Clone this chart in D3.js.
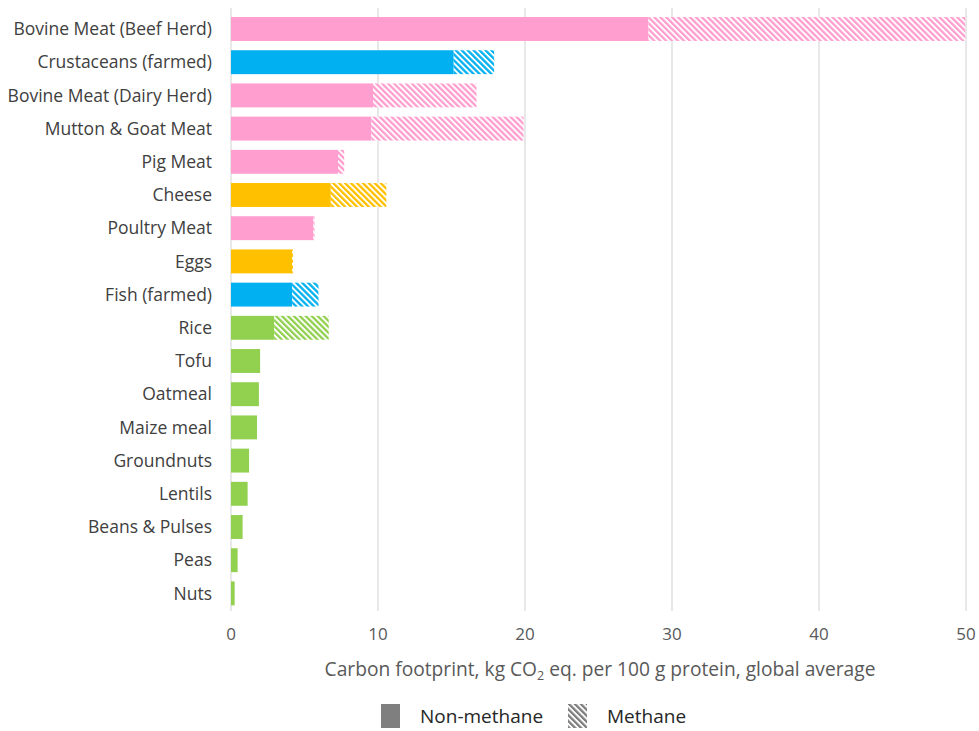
<!DOCTYPE html>
<html>
<head>
<meta charset="utf-8">
<script src="https://cdn.jsdelivr.net/npm/d3@7"></script>
<style>
  body { margin: 0; background: #fff; }
  text { font-family: "Open Sans", "Liberation Sans", sans-serif; }
</style>
</head>
<body>
<script>
// data
const foods = ['Bovine Meat (Beef Herd)', 'Crustaceans (farmed)', 'Bovine Meat (Dairy Herd)',
  'Mutton & Goat Meat', 'Pig Meat', 'Cheese', 'Poultry Meat', 'Eggs', 'Fish (farmed)', 'Rice',
  'Tofu', 'Oatmeal', 'Maize meal', 'Groundnuts', 'Lentils', 'Beans & Pulses', 'Peas', 'Nuts']
const nonMethane = [28.4, 15.15, 9.66, 9.55, 7.28, 6.79, 5.6, 4.15, 4.16, 2.94,
  1.98, 1.9, 1.77, 1.23, 1.13, 0.79, 0.45, 0.25]
const methane = [21.55, 2.75, 7.04, 10.35, 0.42, 3.78, 0.08, 0.07, 1.79, 3.71,
  0, 0, 0, 0, 0, 0, 0, 0]
const groups = ['meat', 'seafood', 'meat', 'meat', 'meat', 'dairy', 'meat', 'dairy', 'seafood', 'plant',
  'plant', 'plant', 'plant', 'plant', 'plant', 'plant', 'plant', 'plant']
const xTicks = [0, 10, 20, 30, 40, 50]

const colors = {meat: '#ff9ecf', seafood: '#00b0f0', dairy: '#ffc000', plant: '#92d050'}

const width = 979
const height = 731

const svg = d3.select('body').append('svg')
  .attr('width', width)
  .attr('height', height)

const x = d3.scaleLinear().domain([0, 50]).range([231, 966])
const y = d3.scaleBand().domain(foods).range([12.4, 610])
  .paddingInner(0.28).paddingOuter(0.14)

// hatch patterns, one per colour (stripes run top-left to bottom-right)
const defs = svg.append('defs')
const makeHatch = (id, color) => {
  const p = defs.append('pattern')
    .attr('id', id)
    .attr('patternUnits', 'userSpaceOnUse')
    .attr('width', 4.2)
    .attr('height', 4.2)
    .attr('patternTransform', 'rotate(-45)')
  p.append('rect').attr('width', 4.2).attr('height', 4.2).attr('fill', '#fff')
  p.append('rect').attr('width', 2.3).attr('height', 4.2).attr('fill', color)
}
Object.keys(colors).forEach(k => makeHatch('hatch-' + k, colors[k]))
makeHatch('hatch-legend', '#7f7f7f')

// gridlines
svg.append('g')
  .selectAll('line')
  .data(xTicks)
  .enter().append('line')
  .attr('x1', d => x(d))
  .attr('x2', d => x(d))
  .attr('y1', 8)
  .attr('y2', 611)
  .attr('stroke', '#d9d9d9')
  .attr('stroke-width', 1.2)

const rows = foods.map((f, i) => ({name: f, a: nonMethane[i], b: methane[i], g: groups[i]}))

const bars = svg.append('g')
bars.selectAll('rect.solid')
  .data(rows).enter()
  .append('rect')
  .attr('class', 'solid')
  .attr('x', x(0))
  .attr('y', d => y(d.name))
  .attr('width', d => x(d.a) - x(0))
  .attr('height', y.bandwidth())
  .attr('fill', d => colors[d.g])

bars.selectAll('rect.hatch')
  .data(rows.filter(d => d.b > 0)).enter()
  .append('rect')
  .attr('class', 'hatch')
  .attr('x', d => x(d.a))
  .attr('y', d => y(d.name))
  .attr('width', d => x(d.a + d.b) - x(d.a))
  .attr('height', y.bandwidth())
  .attr('fill', d => 'url(#hatch-' + d.g + ')')

// category labels
svg.append('g')
  .selectAll('text')
  .data(foods).enter()
  .append('text')
  .attr('x', 212)
  .attr('y', d => y(d) + y.bandwidth() / 2)
  .attr('dy', '0.35em')
  .attr('text-anchor', 'end')
  .attr('font-size', 17.5)
  .attr('fill', '#404040')
  .text(d => d)

// x axis labels
svg.append('g')
  .selectAll('text')
  .data(xTicks).enter()
  .append('text')
  .attr('x', d => x(d))
  .attr('y', 640)
  .attr('text-anchor', 'middle')
  .attr('font-size', 17)
  .attr('fill', '#595959')
  .text(d => d)

const title = svg.append('text')
  .attr('x', 600)
  .attr('y', 676)
  .attr('text-anchor', 'middle')
  .attr('font-size', 19.2)
  .attr('fill', '#595959')
title.append('tspan').text('Carbon footprint, kg CO')
title.append('tspan').attr('font-size', 12.5).attr('dy', 4).text('2')
title.append('tspan').attr('dy', -4).text(' eq. per 100 g protein, global average')

// legend
const legend = svg.append('g')
legend.append('rect')
  .attr('x', 381).attr('y', 704).attr('width', 19).attr('height', 24)
  .attr('fill', '#7f7f7f')
legend.append('text')
  .attr('x', 420).attr('y', 723)
  .attr('font-size', 19).attr('fill', '#262626')
  .text('Non-methane')
legend.append('rect')
  .attr('x', 568).attr('y', 704).attr('width', 19).attr('height', 24)
  .attr('fill', 'url(#hatch-legend)')
legend.append('text')
  .attr('x', 607).attr('y', 723)
  .attr('font-size', 19).attr('fill', '#262626')
  .text('Methane')
</script>
</body>
</html>
